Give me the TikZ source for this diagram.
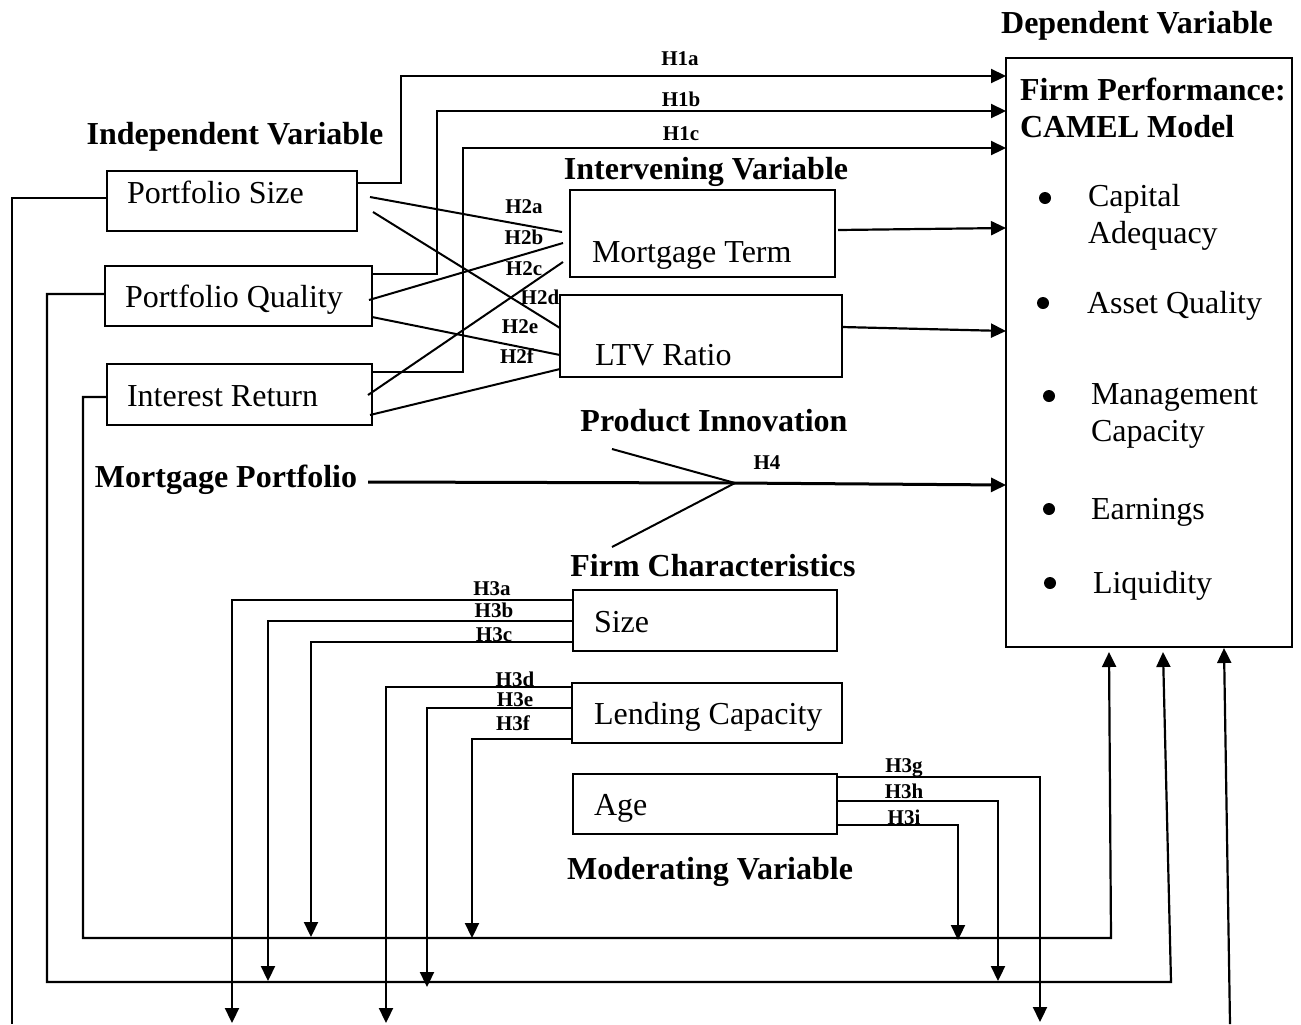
\documentclass[tikz,border=0pt]{standalone}
\usepackage{fontspec}
\setmainfont{Liberation Serif}
\usetikzlibrary{arrows.meta,calc}
% fixed-width, left-aligned text inside a box
\newcommand{\leftin}[2]{\makebox[#1][l]{#2}}
\begin{document}
\begin{tikzpicture}[x=0.5pt,y=-0.5pt,
  every node/.style={inner sep=0pt, outer sep=0pt},
  head/.style={font=\bfseries\fontsize{16}{18.5}\selectfont},
  hyp/.style={font=\bfseries\fontsize{10.5}{12}\selectfont},
  body/.style={font=\fontsize{16}{18.5}\selectfont},
  varbox/.style={draw, line width=0.8pt, anchor=north west, body,
                 inner ysep=0pt, text height=15pt, text depth=3.5pt},
  bulletdot/.style={circle, fill, minimum size=6pt},
  link/.style={line width=1pt},
  arr/.style={line width=1.1pt, -{Triangle[length=7.5pt,width=7pt]}},
  bigarr/.style={line width=1.5pt, -{Triangle[length=7.5pt,width=7pt]}},
]
\useasboundingbox (0,0) rectangle (1301,1024);

% ---------- headings ----------
\node[head] (dephead)  at (1137,26)  {Dependent Variable};
\node[head] (indhead)  at (235,137)  {Independent Variable};
\node[head] (inthead)  at (706,172)  {Intervening Variable};
\node[head] (prodhead) at (714,421)  {Product Innovation};
\node[head] (mport)    at (226,480)  {Mortgage Portfolio};
\node[head] (firmhead) at (713,566)  {Firm Characteristics};
\node[head] (modhead)  at (710,872)  {Moderating Variable};

% ---------- independent variables ----------
\node[varbox, inner xsep=10pt, minimum height=30pt, text depth=12.5pt] (psize) at (107,171)
  {\leftin{105pt}{Portfolio Size}};
\node[varbox, inner xsep=10pt, minimum height=30pt] (pqual) at (105,266)
  {\leftin{113.5pt}{Portfolio Quality}};
\node[varbox, inner xsep=10pt, minimum height=30.5pt] (intret) at (107,364)
  {\leftin{112.5pt}{Interest Return}};

% ---------- intervening variables ----------
\node[varbox, inner xsep=11pt, minimum height=43.5pt, text height=32.5pt] (mterm) at (570,190)
  {\leftin{110.5pt}{Mortgage Term}};
\node[varbox, inner xsep=17.5pt, minimum height=41pt, text height=33pt] (ltv) at (560,295)
  {\leftin{106pt}{LTV Ratio}};

% ---------- moderating variables ----------
\node[varbox, inner xsep=10.5pt, minimum height=30.5pt] (size) at (573,590)
  {\leftin{111pt}{Size}};
\node[varbox, inner xsep=11pt, minimum height=30pt] (lend) at (572,683)
  {\leftin{113pt}{Lending Capacity}};
\node[varbox, inner xsep=10.5pt, minimum height=30pt] (age) at (573,774)
  {\leftin{111pt}{Age}};

% ---------- dependent variable ----------
\node[draw, line width=0.8pt, anchor=north west, minimum width=143pt, minimum height=294.5pt] (perf) at (1006,58) {};
\node[head, anchor=west, align=left] (perftitle) at (1020,108) {Firm Performance:\\CAMEL Model};
\node[bulletdot] (bul1) at (1045,198) {};
\node[bulletdot] (bul2) at (1043,303) {};
\node[bulletdot] (bul3) at (1049,396) {};
\node[bulletdot] (bul4) at (1049,509) {};
\node[bulletdot] (bul5) at (1050,583) {};
\node[body, anchor=west, align=left] (itm1) at (1088,217)   {Capital\\Adequacy};
\node[body, anchor=west] (itm2) at (1087,306) {Asset Quality};
\node[body, anchor=west, align=left] (itm3) at (1091,416)   {Management\\Capacity};
\node[body, anchor=west] (itm4) at (1091,512) {Earnings};
\node[body, anchor=west] (itm5) at (1093,586) {Liquidity};

% ---------- H1: direct effects ----------
\draw[arr] (psize.east |- 0,183) -| (401,76) -- (perf.west |- 0,76);
\draw[arr] (pqual.east |- 0,274) -| (437,111) -- (perf.west |- 0,111);
\draw[arr] (intret.east |- 0,372) -| (463,148) -- (perf.west |- 0,148);
\node[hyp] (h1a) at (680,59)  {H1a};
\node[hyp] (h1b) at (681,99)  {H1b};
\node[hyp] (h1c) at (681,134) {H1c};

% ---------- H2: paths to intervening variables ----------
\draw[link] ($(psize.east |- 0,197)+(13,0)$)  -- ($(mterm.west |- 0,232)+(-8,0)$);
\draw[link] ($(psize.east |- 0,212)+(16,0)$)  -- (ltv.west |- 0,328);
\draw[link] ($(pqual.east |- 0,300)+(-3,0)$)  -- ($(mterm.west |- 0,243)+(-7,0)$);
\draw[link] (pqual.east |- 0,317)             -- (ltv.west |- 0,355);
\draw[link] ($(intret.east |- 0,395)+(-4,0)$) -- ($(mterm.west |- 0,262)+(-7,0)$);
\draw[link] ($(intret.east |- 0,415)+(-2,0)$) -- (ltv.west |- 0,369);
\node[hyp] (h2a) at (524,207) {H2a};
\node[hyp] (h2b) at (524,237) {H2b};
\node[hyp] (h2c) at (524,269) {H2c};
\node[hyp] (h2d) at (540,297) {H2d};
\node[hyp] (h2e) at (520,327) {H2e};
\node[hyp] (h2f) at (517,356) {H2f};

% intervening variables to performance
\draw[arr] ($(mterm.east |- 0,230)+(3,0)$) -- (perf.west |- 0,228);
\draw[arr] (ltv.east |- 0,327) -- (perf.west |- 0,331);

% ---------- H4: combined model ----------
\coordinate (junc) at (735,483);
\coordinate (piend) at (612,449);
\coordinate (fcend) at (612,547);
\draw[bigarr] ($(mport.east)+(11,2)$) -- (junc) -- (perf.west |- 0,485);
\draw[link] (piend) -- (junc);
\draw[link] (fcend) -- (junc);
\node[hyp] (h4) at (767,463) {H4};

% ---------- H3: moderating paths ----------
\draw[arr] (size.west |- 0,600) -| (232,1023);
\draw[arr] (size.west |- 0,621) -| (268,981);
\draw[arr] (size.west |- 0,642) -| (311,937);
\draw[arr] (lend.west |- 0,687) -| (386,1023);
\draw[arr] (lend.west |- 0,708) -| (427,987);
\draw[arr] (lend.west |- 0,739) -| (472,938);
\draw[arr] (age.east |- 0,777) -| (1040,1022);
\draw[arr] (age.east |- 0,801) -| (998,981);
\draw[arr] (age.east |- 0,825) -| (958,940);
\node[hyp] (h3a) at (492,589) {H3a};
\node[hyp] (h3b) at (494,610) {H3b};
\node[hyp] (h3c) at (494,635) {H3c};
\node[hyp] (h3d) at (515,679) {H3d};
\node[hyp] (h3e) at (515,700) {H3e};
\node[hyp] (h3f) at (513,723) {H3f};
\node[hyp] (h3g) at (904,768) {H3g};
\node[hyp] (h3h) at (904,791) {H3h};
\node[hyp] (h3i) at (904,817) {H3i};

% ---------- return loops to performance ----------
\draw[link] (psize.west |- 0,198) -| (12,1024);
\draw[arr] (pqual.west |- 0,294) -| (47,982) -- (1171,982) -- ($(perf.south -| 1163,0)+(0,5)$);
\draw[arr] (intret.west |- 0,397) -| (83,938) -- (1111,938) -- ($(perf.south -| 1109,0)+(0,5)$);
\coordinate (loopend) at (1230,1024);
\draw[arr] (loopend) -- ($(perf.south -| 1224,0)+(0,1)$);
\end{tikzpicture}
\end{document}
